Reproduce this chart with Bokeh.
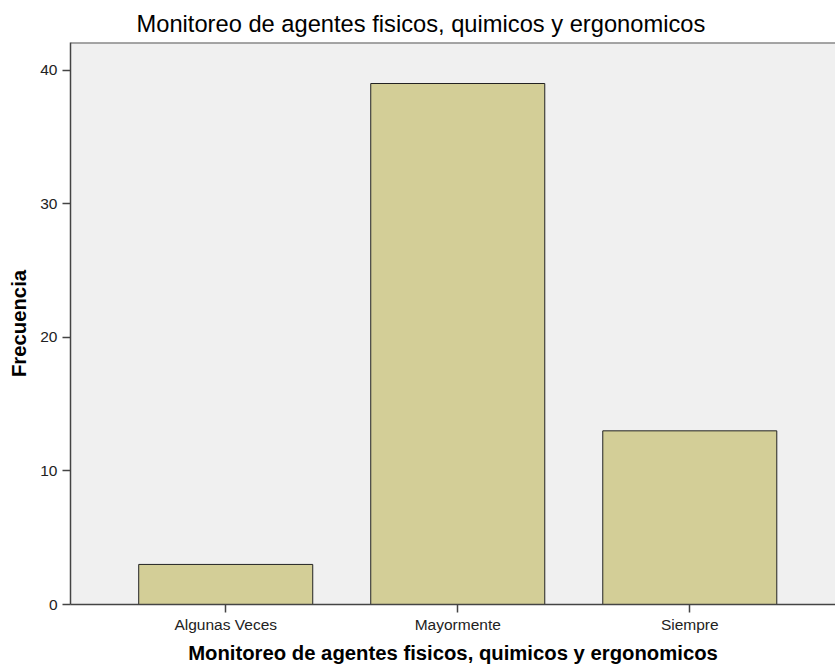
from bokeh.plotting import figure
from bokeh.models import Range1d, FixedTicker, Span, Title, ColumnDataSource
from bokeh.embed import file_html
from bokeh.resources import INLINE

categories = ["Algunas Veces", "Mayormente", "Siempre"]
frecuencia = [3, 39, 13]
y_ticks = [0, 10, 20, 30, 40]
title_text = "Monitoreo de agentes fisicos, quimicos y ergonomicos"
x_label = "Monitoreo de agentes fisicos, quimicos y ergonomicos"
y_label = "Frecuencia"

FONT = "Liberation Sans"
Y_END = 42.07

positions = list(range(len(categories)))
src = ColumnDataSource(dict(x=positions, top=frecuencia, cat=categories))

p = figure(width=835, height=666, output_backend="svg", toolbar_location=None,
           x_range=Range1d(-0.669, 2.628), y_range=Range1d(0, Y_END),
           min_border_left=70, min_border_right=0, min_border_top=42,
           min_border_bottom=62)

p.vbar(x="x", top="top", width=0.75, source=src, fill_color="#d3ce97",
       line_color="#222222", line_width=1)

t = Title(text=title_text, align="left", offset=66, standoff=11,
          text_font=FONT, text_font_size="23.7px", text_font_style="normal",
          text_color="#000000")
p.add_layout(t, "above")

p.background_fill_color = "#f0f0f0"
p.border_fill_color = "#ffffff"
p.outline_line_color = None
p.xgrid.grid_line_color = None
p.ygrid.grid_line_color = None

p.add_layout(Span(location=Y_END, dimension="width", line_color="#555555",
                  line_width=2))

xa = p.xaxis[0]
xa.ticker = FixedTicker(ticks=positions)
xa.major_label_overrides = {i: c for i, c in zip(positions, categories)}
xa.axis_label = x_label
ya = p.yaxis[0]
ya.ticker = FixedTicker(ticks=y_ticks)
ya.axis_label = y_label

for ax in (xa, ya):
    ax.axis_line_color = "#444444"
    ax.axis_line_width = 1.5
    ax.major_tick_line_color = "#444444"
    ax.major_tick_line_width = 1.5
    ax.major_tick_in = 0
    ax.major_tick_out = 8
    ax.minor_tick_line_color = None
    ax.major_label_text_font = FONT
    ax.major_label_text_font_size = "15.5px"
    ax.major_label_text_color = "#222222"
    ax.axis_label_text_font = FONT
    ax.axis_label_text_font_size = "20.3px"
    ax.axis_label_text_font_style = "bold"
    ax.axis_label_text_color = "#000000"

xa.major_label_standoff = 3
xa.axis_label_standoff = 6
ya.major_label_standoff = 5
ya.axis_label_standoff = 7

open("out.html", "w").write(file_html(p, INLINE))
